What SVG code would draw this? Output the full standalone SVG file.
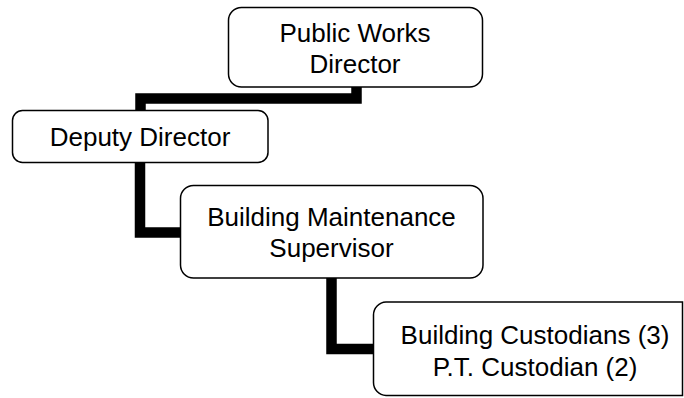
<svg xmlns="http://www.w3.org/2000/svg" width="684" height="398" viewBox="0 0 684 398">
<style>
.box{fill:#fff;stroke:#000;stroke-width:1.5}
.t{font-family:"Liberation Sans",Arial,sans-serif;font-size:26px;fill:#000;text-anchor:middle}
.c{fill:none;stroke:#000;stroke-width:10.5;stroke-linejoin:miter;stroke-linecap:butt}
</style>
<rect width="684" height="398" fill="#fff"/>
<g id="connectors">
<path class="c" d="M356.5,87 V98.5 H140.5 V110.5"/>
<path class="c" d="M140,162.5 V232.5 H181"/>
<path class="c" d="M331.5,278 V349 H374"/>
</g>
<g id="public-works-director">
<rect class="box" x="228.5" y="7.5" width="254" height="79.5" rx="13"/>
<text class="t" x="355" y="42">Public Works</text>
<text class="t" x="355" y="73">Director</text>
</g>
<g id="deputy-director">
<rect class="box" x="12.5" y="110.5" width="255.5" height="52" rx="10"/>
<text class="t" x="140" y="146">Deputy Director</text>
</g>
<g id="building-maintenance-supervisor">
<rect class="box" x="180.5" y="185.5" width="302.5" height="92.5" rx="13"/>
<text class="t" x="331.5" y="226">Building Maintenance</text>
<text class="t" x="331.5" y="257">Supervisor</text>
</g>
<g id="building-custodians">
<path class="box" d="M386,302 H682.5 V395.5 H386 A13,13 0 0 1 373.5,382.5 V315 A13,13 0 0 1 386,302 Z"/>
<text class="t" x="535" y="344">Building Custodians (3)</text>
<text class="t" x="535" y="376">P.T. Custodian (2)</text>
</g>
</svg>
